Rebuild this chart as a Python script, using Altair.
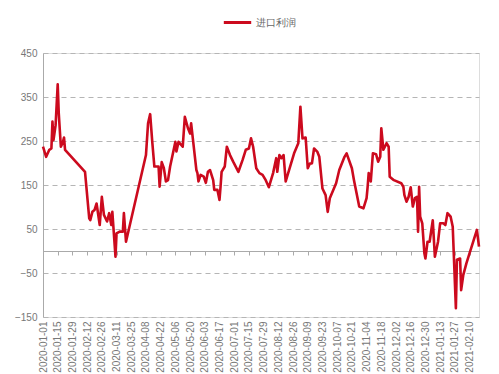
import altair as alt
import pandas as pd

series_name = "进口利润"

dates = [
    "2020-01-01", "2020-01-04", "2020-01-07", "2020-01-09", "2020-01-10", "2020-01-11",
    "2020-01-13", "2020-01-15", "2020-01-16", "2020-01-18", "2020-01-20", "2020-01-21",
    "2020-01-22", "2020-02-10", "2020-02-14", "2020-02-15", "2020-02-17", "2020-02-19",
    "2020-02-21", "2020-02-24", "2020-02-26", "2020-02-28", "2020-03-02", "2020-03-04",
    "2020-03-06", "2020-03-07", "2020-03-10", "2020-03-11", "2020-03-14", "2020-03-17",
    "2020-03-18", "2020-03-20", "2020-04-08", "2020-04-10", "2020-04-12", "2020-04-14",
    "2020-04-16", "2020-04-20", "2020-04-21", "2020-04-23", "2020-04-25", "2020-04-27",
    "2020-04-29", "2020-05-01", "2020-05-06", "2020-05-07", "2020-05-09", "2020-05-13",
    "2020-05-15", "2020-05-18", "2020-05-20", "2020-05-21", "2020-05-26", "2020-05-27",
    "2020-05-28", "2020-05-30", "2020-06-02", "2020-06-04", "2020-06-06", "2020-06-08",
    "2020-06-11", "2020-06-12", "2020-06-15", "2020-06-17", "2020-06-18", "2020-06-19",
    "2020-06-22", "2020-06-24", "2020-06-27", "2020-06-30", "2020-07-05", "2020-07-09",
    "2020-07-12", "2020-07-15", "2020-07-17", "2020-07-19", "2020-07-22", "2020-07-25",
    "2020-07-28", "2020-07-31", "2020-08-03", "2020-08-07", "2020-08-10", "2020-08-11",
    "2020-08-13", "2020-08-15", "2020-08-17", "2020-08-19", "2020-08-27", "2020-08-31",
    "2020-09-02", "2020-09-04", "2020-09-07", "2020-09-09", "2020-09-11", "2020-09-13",
    "2020-09-15", "2020-09-18", "2020-09-20", "2020-09-23", "2020-09-26", "2020-09-28",
    "2020-09-30", "2020-10-06", "2020-10-09", "2020-10-14", "2020-10-16", "2020-10-21",
    "2020-10-23", "2020-10-28", "2020-11-01", "2020-11-04", "2020-11-05", "2020-11-06",
    "2020-11-08", "2020-11-10", "2020-11-13", "2020-11-15", "2020-11-17", "2020-11-18",
    "2020-11-20", "2020-11-23", "2020-11-25", "2020-11-26", "2020-11-30", "2020-12-07",
    "2020-12-09", "2020-12-10", "2020-12-12", "2020-12-14", "2020-12-16", "2020-12-18",
    "2020-12-20", "2020-12-22", "2020-12-23", "2020-12-24", "2020-12-25", "2020-12-27",
    "2020-12-29", "2020-12-30", "2021-01-01", "2021-01-03", "2021-01-06", "2021-01-08",
    "2021-01-11", "2021-01-13", "2021-01-16", "2021-01-18", "2021-01-20", "2021-01-23",
    "2021-01-25", "2021-01-28", "2021-01-29", "2021-02-01", "2021-02-02", "2021-02-04",
    "2021-02-07", "2021-02-17", "2021-02-19",
]

profit = [
    237, 214, 230, 233, 294, 252,
    286, 379, 313, 237, 248, 258,
    230, 180, 74, 70, 89, 93,
    108, 59, 123, 82, 67, 86,
    59, 89, -13, 40, 44, 44,
    86, 21, 218, 290, 311, 248,
    192, 192, 146, 202, 189, 158,
    161, 192, 248, 226, 248, 237,
    305, 279, 267, 290, 184, 177,
    158, 173, 169, 155, 180, 184,
    161, 139, 139, 116, 146, 180,
    192, 237, 218, 203, 180, 207,
    230, 233, 256, 237, 188, 177,
    173, 161, 145, 177, 211, 180,
    218, 211, 218, 158, 222, 245,
    328, 256, 258, 188, 199, 199,
    233, 226, 214, 142, 127, 89,
    120, 154, 184, 214, 222, 188,
    161, 101, 97, 120, 146, 177,
    158, 222, 220, 203, 214, 279,
    230, 245, 237, 169, 161, 154,
    146, 127, 112, 123, 145, 101,
    120, 123, 44, 146, 78, 63,
    -5, -17, 21, 21, 70, -13,
    21, 63, 63, 59, 86, 78,
    55, -130, -20, -17, -89, -55,
    -28, 48, 10,
]

tick_dates = [
    "2020-01-01", "2020-01-15", "2020-01-29", "2020-02-12", "2020-02-26", "2020-03-11",
    "2020-03-25", "2020-04-08", "2020-04-22", "2020-05-06", "2020-05-20", "2020-06-03",
    "2020-06-17", "2020-07-01", "2020-07-15", "2020-07-29", "2020-08-12", "2020-08-26",
    "2020-09-09", "2020-09-23", "2020-10-07", "2020-10-21", "2020-11-04", "2020-11-18",
    "2020-12-02", "2020-12-16", "2020-12-30", "2021-01-13", "2021-01-27", "2021-02-10",
]
y_ticks = [-150, -50, 50, 150, 250, 350, 450]

df = pd.DataFrame({"date": dates, "profit": profit, "series": series_name})

epoch = pd.Timestamp("1970-01-01")
tick_ms = [int((pd.Timestamp(d) - epoch).total_seconds() * 1000) for d in tick_dates]
dom_ms = [int((pd.Timestamp(d) - epoch).total_seconds() * 1000) for d in ["2020-01-01", "2021-02-19"]]

FONT = "Liberation Sans"

chart = alt.Chart(df).mark_line(strokeWidth=2.6, strokeJoin="round").encode(
    x=alt.X(
        "date:T",
        scale=alt.Scale(type="utc", domain=dom_ms, nice=False),
        axis=alt.Axis(
            values=tick_ms,
            labelExpr="utcFormat(datum.value, '%Y-%m-%d')",
            labelAngle=270,
            labelAlign="right",
            labelBaseline="middle",
            labelFontSize=10,
            labelColor="#777777",
            labelFont=FONT,
            labelPadding=66,
            labelOverlap=False,
            offset=-66,
            domainColor="#aaaaaa",
            domainWidth=1,
            tickColor="#aaaaaa",
            tickSize=4,
            grid=False,
            title=None,
        ),
    ),
    y=alt.Y(
        "profit:Q",
        scale=alt.Scale(domain=[-150, 450], nice=False, zero=False),
        axis=alt.Axis(
            values=y_ticks,
            labelFontSize=10,
            labelColor="#777777",
            labelFont=FONT,
            labelPadding=6,
            ticks=False,
            domainColor="#aaaaaa",
            grid=True,
            gridColor="#b5b5b5",
            gridDash=[5, 4],
            gridWidth=1,
            title=None,
        ),
    ),
    color=alt.Color(
        "series:N",
        scale=alt.Scale(range=["#cc0a1e"]),
        legend=alt.Legend(
            orient="none",
            legendX=179,
            legendY=-46,
            direction="horizontal",
            title=None,
            symbolType="stroke",
            symbolStrokeWidth=3,
            symbolSize=750,
            labelFontSize=10,
            labelColor="#666666",
            labelFont=FONT,
            labelOffset=3,
        ),
    ),
).properties(
    width=436,
    height=264,
    padding={"left": 35, "top": 45, "right": 12, "bottom": 57},
    autosize=alt.AutoSizeParams(type="none"),
).configure_view(stroke=None).configure(background="white")

chart.save("out.html", embed_options={"renderer": "svg", "actions": False})
